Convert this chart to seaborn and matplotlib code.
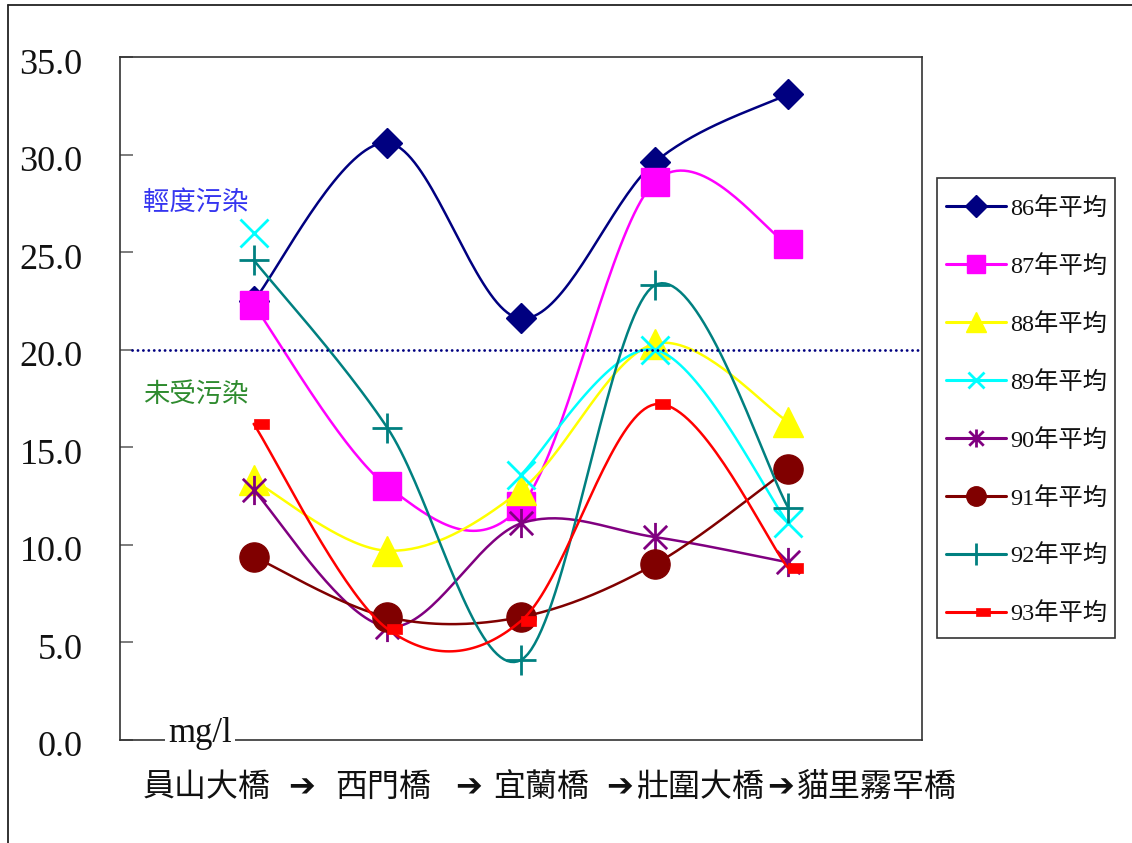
import numpy as np
import pandas as pd
import matplotlib
matplotlib.use("Agg")
import matplotlib.pyplot as plt
import matplotlib.transforms as mtransforms
from matplotlib.path import Path
from matplotlib.lines import Line2D
from matplotlib.patches import Rectangle
from matplotlib.font_manager import FontProperties
import seaborn as sns

# ---- data -------------------------------------------------------------
stations = ["員山大橋", "西門橋", "宜蘭橋", "壯圍大橋", "貓里霧罕橋"]
series_names = ["86年平均", "87年平均", "88年平均", "89年平均",
                "90年平均", "91年平均", "92年平均", "93年平均"]
y86 = [22.5, 30.6, 21.6, 29.6, 33.1]
y87 = [22.3, 13.0, 12.0, 28.6, 25.4]
y88 = [13.3, 9.7, 12.8, 20.3, 16.3]
y89 = [26.0, np.nan, 13.6, 20.0, 11.1]
y90 = [12.8, 5.8, 11.1, 10.4, 9.1]
y91 = [9.4, 6.3, 6.3, 9.0, 13.9]
y92 = [24.6, 16.0, 4.1, 23.3, 11.9]
y93 = [16.2, 5.7, 6.1, 17.2, 8.8]
threshold = 20.0
y_ticks = [0, 5, 10, 15, 20, 25, 30, 35]
flow_arrow = "➔"
unit_label = "mg/l"
zone_upper = "輕度污染"
zone_lower = "未受污染"

all_series = [y86, y87, y88, y89, y90, y91, y92, y93]

# ---- marker shapes ----------------------------------------------------
star_path = Path(
    [(0, -1), (0, 1), (-0.8, -0.8), (0.8, 0.8), (-0.8, 0.8), (0.8, -0.8)],
    [Path.MOVETO, Path.LINETO, Path.MOVETO, Path.LINETO, Path.MOVETO, Path.LINETO],
)
dash_path = Path(
    [(0, -0.32), (1, -0.32), (1, 0.32), (0, 0.32), (0, -0.32)],
    [Path.MOVETO, Path.LINETO, Path.LINETO, Path.LINETO, Path.CLOSEPOLY],
)

styles = [
    dict(color="#000080", marker="D", ms=15, mew=1, filled=True, lms=11),
    dict(color="#FF00FF", marker="s", ms=20, mew=1, filled=True, lms=13),
    dict(color="#FFFF00", marker="^", ms=21, mew=1, filled=True, lms=14),
    dict(color="#00FFFF", marker="x", ms=20, mew=2.0, filled=False, lms=12),
    dict(color="#800080", marker=star_path, ms=21, mew=2.0, filled=False, lms=13),
    dict(color="#800000", marker="o", ms=21, mew=1, filled=True, lms=14),
    dict(color="#008080", marker="+", ms=22, mew=2.0, filled=False, lms=16),
    dict(color="#FF0000", marker=dash_path, ms=22, mew=0.5, filled=True, lms=20),
]


def smooth_segments(xs, ys, n=40):
    """Cubic Bezier smoothing through the points (Catmull-Rom style),
    split wherever a value is missing."""
    xs = np.asarray(xs, float)
    ys = np.asarray(ys, float)
    runs, cur = [], []
    for x, y in zip(xs, ys):
        if np.isnan(y):
            if cur:
                runs.append(cur)
            cur = []
        else:
            cur.append((x, y))
    if cur:
        runs.append(cur)
    out = []
    for run in runs:
        if len(run) < 2:
            continue
        P = np.array(run)
        pts = []
        for i in range(len(P) - 1):
            p0 = P[i - 1] if i > 0 else P[i]
            p1, p2 = P[i], P[i + 1]
            p3 = P[i + 2] if i + 2 < len(P) else P[i + 1]
            c1 = p1 + (p2 - p0) / 6.0
            c2 = p2 - (p3 - p1) / 6.0
            t = np.linspace(0, 1, n)[:, None]
            seg = ((1 - t) ** 3) * p1 + 3 * ((1 - t) ** 2) * t * c1 \
                + 3 * (1 - t) * t ** 2 * c2 + t ** 3 * p2
            pts.append(seg if i == 0 else seg[1:])
        out.append(np.vstack(pts))
    return out


# ---- figure -------------------------------------------------------------
sns.set_theme(style="white")
serif_cjk = ["Liberation Serif", "Noto Sans CJK TC", "DejaVu Sans"]
plt.rcParams["font.family"] = serif_cjk

W, H = 1132, 843
fig = plt.figure(figsize=(W / 100, H / 100), dpi=100)
ax = fig.add_axes([120 / W, 1 - 740 / H, 802 / W, 683 / H])

xpos = np.arange(len(stations))

for vals, st in zip(all_series, styles):
    for seg in smooth_segments(xpos, vals):
        df = pd.DataFrame({"x": seg[:, 0], "y": seg[:, 1]})
        sns.lineplot(data=df, x="x", y="y", sort=False, estimator=None,
                     color=st["color"], linewidth=1.8, ax=ax, legend=False)
    fc = st["color"] if st["filled"] else "none"
    ax.plot(xpos, vals, linestyle="none", marker=st["marker"],
            markersize=st["ms"], markerfacecolor=fc,
            markeredgecolor=st["color"], markeredgewidth=st["mew"])

# threshold line
ax.axhline(threshold, xmin=12 / 802, xmax=1, color="#000080", linewidth=2.0,
           linestyle=(0, (0.05, 1.9)), dash_capstyle="round")

ax.set_xlim(-1, 5)
ax.set_ylim(0, 35)
ax.set_yticks(y_ticks)
ax.set_yticklabels([f"{v:.1f}" for v in y_ticks], fontsize=26,
                   family="Liberation Serif", color="#111111")
ax.set_xticks([])
ax.set_xlabel("")
ax.set_ylabel("")
ax.tick_params(axis="y", direction="in", length=9, width=1.2,
               color="#666666", pad=27, left=True)
# value labels sit a few pixels below their tick marks
shift = mtransforms.ScaledTranslation(0, -4 / 100, fig.dpi_scale_trans)
for tk in ax.yaxis.get_major_ticks():
    tk.label1.set_transform(tk.label1.get_transform() + shift)
for sp in ax.spines.values():
    sp.set_visible(True)
    sp.set_color("#333333")
    sp.set_linewidth(1.2)

# zone annotations
fig.text(143 / W, 1 - 202 / H, zone_upper, fontsize=19,
         family=["Noto Sans CJK TC"], color="#3535F0", ha="left", va="center")
fig.text(143 / W, 1 - 394 / H, zone_lower, fontsize=19,
         family=["Noto Sans CJK TC"], color="#2E8B2E", ha="left", va="center")

# unit label sitting on the bottom axis
fig.text(200 / W, 1 - 733 / H, unit_label, fontsize=25,
         family="Liberation Serif", color="#111111", ha="center", va="center",
         bbox=dict(facecolor="white", edgecolor="none", pad=2))

# station caption: names joined by flow arrows
caption_parts = [stations[0], flow_arrow, stations[1], flow_arrow, stations[2],
                 flow_arrow, stations[3], flow_arrow, stations[4]]
caption_left = [143, 288, 335, 455, 493, 606, 637, 767, 797]
for txt, xl in zip(caption_parts, caption_left):
    fig.text(xl / W, 1 - 787 / H, txt, fontsize=23,
             family=["Noto Sans CJK TC", "DejaVu Sans"], color="#111111",
             ha="left", va="center")

# legend
handles = []
for st in styles:
    fc = st["color"] if st["filled"] else "none"
    handles.append(Line2D([0], [0], color=st["color"], linewidth=2.2,
                          marker=st["marker"], markersize=st["lms"],
                          markerfacecolor=fc, markeredgecolor=st["color"],
                          markeredgewidth=st["mew"]))
leg = fig.legend(handles, series_names, loc="upper left",
                 bbox_to_anchor=(946 / W, 1 - 197 / H),
                 prop=FontProperties(family=serif_cjk, size=17.5),
                 frameon=False, handlelength=2.45, handletextpad=0.2,
                 labelspacing=1.44, borderpad=0, borderaxespad=0)
for t in leg.get_texts():
    t.set_color("#111111")
fig.add_artist(Rectangle((937 / W, 1 - 638 / H), 178 / W, 460 / H,
                         transform=fig.transFigure, facecolor="none",
                         edgecolor="#333333", linewidth=1.2))

# outer border (top and left edges)
fig.add_artist(Line2D([8 / W, 8 / W], [0, 1 - 5 / H],
                      transform=fig.transFigure, color="#222222", linewidth=1.3))
fig.add_artist(Line2D([8 / W, 1], [1 - 5 / H, 1 - 5 / H],
                      transform=fig.transFigure, color="#222222", linewidth=1.3))

fig.savefig("out.png", dpi=100)
